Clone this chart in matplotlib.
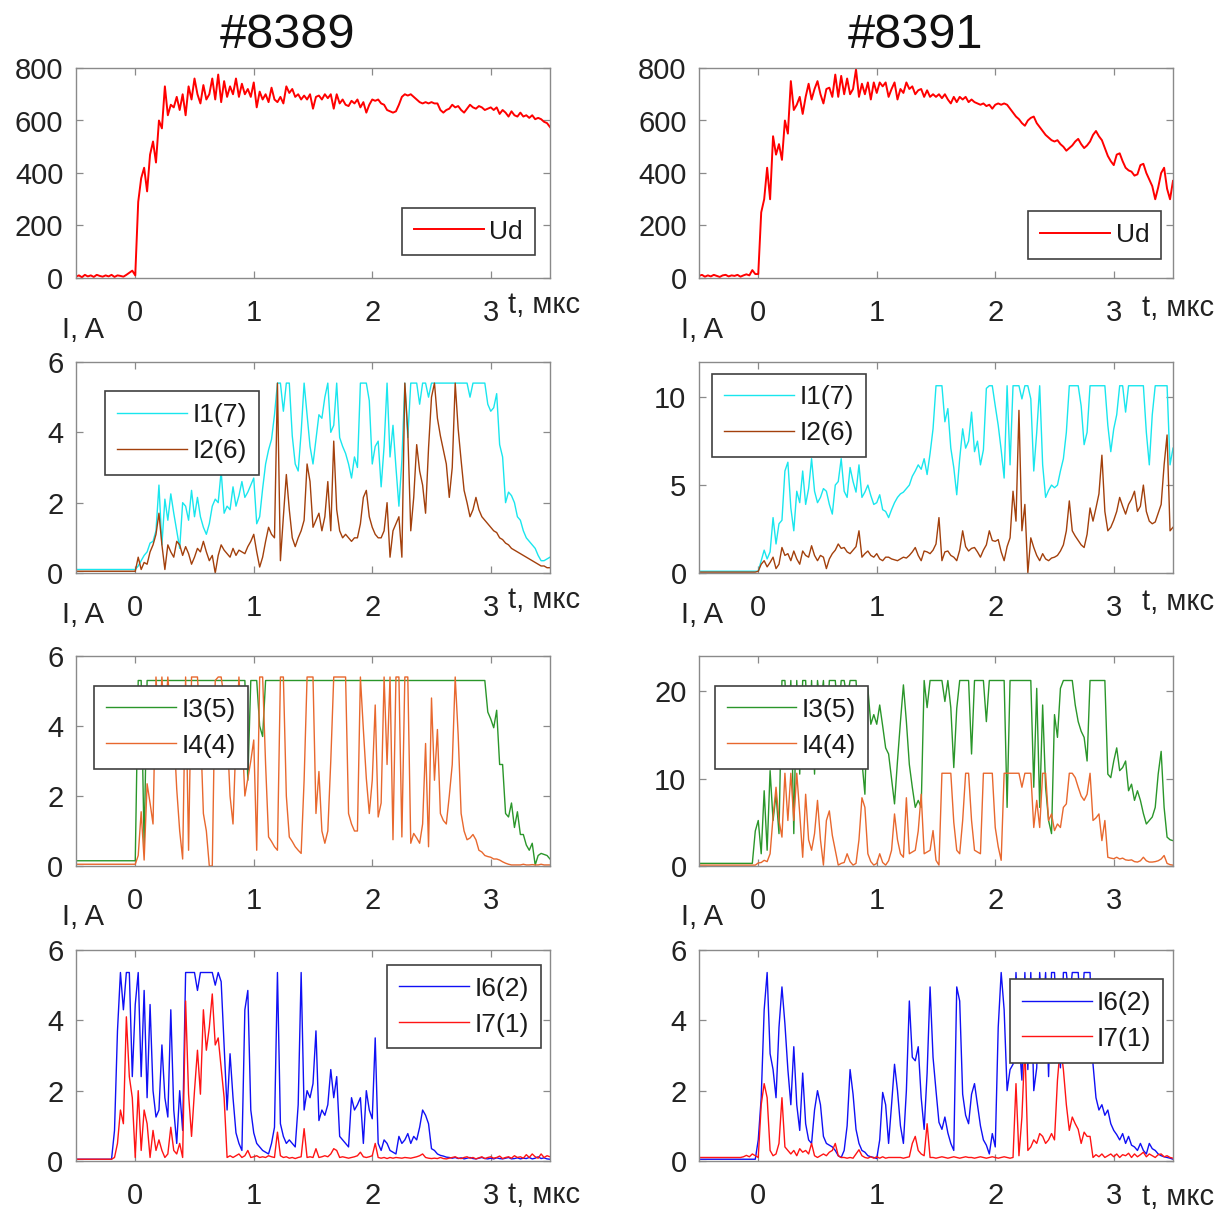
import numpy as np
import matplotlib
matplotlib.use('Agg')
import matplotlib.pyplot as plt

plt.rcParams['font.family'] = ['Liberation Sans', 'DejaVu Sans']

# time grid of the scope traces, мкс (step 0.025)
t_us = np.linspace(-0.5, 3.5, 161)

# ---- shot #8389 ----
ud_8389 = [
    5, 10, 3, 12, 6, 10, 4, 12, 8, 5, 10, 6, 12, 4, 10, 8, 5, 12, 20, 28,
    10, 290, 380, 420, 330, 470, 520, 440, 600, 570, 730, 620, 660, 650, 690, 640, 700, 620, 730, 680,
    760, 700, 665, 735, 680, 700, 760, 680, 775, 670, 750, 690, 730, 700, 760, 690, 740, 700, 720, 690,
    745, 650, 710, 680, 700, 670, 725, 680, 670, 690, 665, 730, 705, 720, 690, 700, 680, 695, 680, 700,
    645, 690, 695, 680, 700, 685, 700, 645, 700, 665, 680, 660, 655, 675, 665, 680, 650, 670, 630, 660,
    680, 675, 680, 665, 660, 640, 635, 630, 635, 660, 690, 700, 695, 700, 690, 680, 670, 665, 670, 665,
    670, 665, 665, 640, 630, 640, 645, 660, 650, 655, 640, 630, 645, 660, 650, 645, 655, 650, 640, 645,
    650, 640, 650, 625, 640, 630, 615, 635, 620, 615, 630, 615, 620, 610, 620, 605, 610, 605, 595, 590,
    575]

i1_8389 = [
    0.1] * 20 + [
    0.1, 0.2, 0.35, 0.5, 0.6, 0.85, 0.9, 1.2, 2.5, 0.8, 2.1, 1.5, 2.25, 1.7, 1.2, 0.7, 2.0, 1.9, 1.5, 2.35,
    1.6, 2.15, 1.6, 1.3, 1.1, 1.4, 1.9, 2.1, 2.0, 2.9, 1.7, 1.9, 1.8, 2.45, 1.9, 2.2, 2.6, 2.15, 2.3, 2.5,
    2.7, 1.4, 1.6, 2.4, 3.1, 3.5, 3.8, 4.5, 5.4, 5.4, 4.6, 5.4, 5.4, 3.9, 3.1, 2.9, 4.0, 5.4, 4.5, 3.6,
    3.1, 3.8, 4.5, 4.4, 5.0, 5.4, 4.0, 4.2, 5.4, 3.85, 3.6, 3.4, 3.1, 2.7, 3.3, 3.0, 5.4, 5.4, 5.4, 4.9,
    3.1, 3.6, 3.75, 2.45, 3.6, 5.4, 3.3, 4.2, 3.0, 1.9, 3.2, 5.4, 3.85, 5.4, 5.4, 5.4, 4.8, 5.4, 5.4, 5.0,
    5.4, 5.4, 5.4, 5.4, 5.4, 5.4, 5.4, 5.4, 5.4, 5.4, 5.4, 5.4, 5.4, 5.0, 5.4, 5.4, 5.4, 5.4, 5.4, 4.8,
    4.6, 4.7, 5.1, 3.65, 3.3, 2.0, 2.3, 2.2, 2.0, 1.6, 1.5, 1.2, 1.0, 0.9, 0.8, 0.7, 0.5, 0.35, 0.35, 0.4,
    0.45]

i2_8389 = [
    0.05] * 20 + [
    0.05, 0.45, 0.1, 0.3, 0.25, 0.6, 0.8, 1.1, 1.7, 0.8, 0.1, 0.8, 0.6, 0.45, 0.9, 0.8, 0.5, 0.75, 0.55, 0.25,
    0.45, 0.7, 0.6, 0.9, 0.6, 0.35, 0.5, 0.0, 0.5, 0.8, 0.65, 0.55, 0.45, 0.7, 0.5, 0.65, 0.6, 0.55, 0.75, 0.9,
    1.1, 0.6, 0.17, 0.45, 0.9, 1.3, 1.1, 1.0, 5.4, 0.35, 1.6, 2.8, 1.8, 1.0, 0.75, 1.0, 1.2, 1.5, 3.1, 2.6,
    1.3, 1.5, 1.7, 1.2, 1.6, 2.6, 1.2, 3.75, 1.8, 1.2, 1.0, 1.1, 1.0, 0.9, 1.0, 1.0, 1.4, 2.15, 2.35, 1.6,
    1.3, 1.1, 1.0, 1.0, 1.2, 2.0, 0.45, 1.2, 1.4, 1.6, 0.45, 5.4, 4.0, 1.2, 2.15, 3.65, 2.9, 2.5, 1.7, 3.55,
    5.0, 5.4, 4.4, 3.9, 3.5, 3.1, 2.15, 3.0, 5.4, 4.1, 3.2, 2.35, 2.0, 1.6, 1.8, 2.15, 1.8, 1.6, 1.5, 1.4,
    1.3, 1.2, 1.15, 1.0, 0.95, 0.85, 0.8, 0.7, 0.65, 0.6, 0.55, 0.5, 0.45, 0.4, 0.35, 0.3, 0.25, 0.2, 0.2, 0.15,
    0.15]

i3_8389 = [
    0.15] * 20 + [
    0.15, 5.3, 5.3, 0.55] + [5.3] * 34 + [2.45, 5.3,
    5.3, 5.3, 4.0, 3.7] + [5.3] * 75 + [4.4,
    4.2, 3.95, 4.45, 2.9, 2.9, 1.5, 1.4, 1.8, 1.1, 1.55, 0.9, 0.9, 0.6, 0.45, 0.65, 0.03, 0.3, 0.36, 0.33, 0.3,
    0.2]

i4_8389 = [
    0.05] * 20 + [
    0.05, 0.3, 1.55, 0.17, 2.35, 1.8, 1.2, 5.4, 3.9, 5.4, 4.0, 5.4, 4.35, 3.9, 2.2, 1.0, 0.2, 5.4, 0.45, 5.4,
    5.4, 5.4, 4.0, 1.5, 1.0, 0.0, 0.0, 5.3, 5.4, 5.4, 4.8, 3.9, 2.0, 1.2, 3.6, 5.4, 3.9, 2.0, 2.5, 3.0,
    3.6, 0.45, 5.4, 5.4, 2.9, 0.83, 0.7, 0.55, 0.45, 5.4, 5.4, 2.0, 0.83, 0.7, 0.55, 0.45, 0.36, 2.45, 5.4, 5.4,
    5.4, 1.5, 2.7, 1.0, 0.65, 1.0, 3.0, 5.4, 5.4, 5.4, 5.4, 5.4, 1.5, 1.2, 1.0, 1.0, 5.4, 3.9, 2.5, 1.5,
    2.45, 4.6, 1.4, 1.8, 5.4, 2.9, 5.4, 0.75, 5.4, 5.4, 0.83, 5.4, 5.4, 0.65, 0.93, 0.8, 0.65, 1.2, 3.5, 0.55,
    4.8, 2.45, 3.9, 1.5, 1.3, 1.2, 2.0, 2.9, 5.4, 3.75, 1.5, 1.0, 0.75, 0.8, 0.9, 0.75, 0.45, 0.4, 0.3, 0.27,
    0.25, 0.2, 0.2, 0.17, 0.12, 0.08, 0.05, 0.03, 0.03, 0.03, 0.03, 0.05, 0.03, 0.03, 0.04, 0.03, 0.03, 0.05, 0.03, 0.03,
    0.03]

i6_8389 = [
    0.05] * 13 + [0.87, 3.7, 5.36, 4.3, 5.36, 5.36, 2.4,
    4.45, 5.36, 2.4, 4.85, 1.8, 4.45, 2.0, 1.25, 1.45, 3.3, 1.8, 1.25, 4.3, 1.45, 0.5, 2.0, 0.87, 5.36, 5.36, 5.36,
    5.36, 4.85, 5.36, 5.36, 5.36, 5.36, 5.36, 5.0, 5.36, 5.1, 3.3, 1.45, 3.05, 1.8, 0.8, 0.5, 0.3, 4.3, 4.85, 1.45,
    0.8, 0.5, 0.4, 0.3, 0.25, 0.2, 0.5, 0.96, 5.36, 1.06, 0.7, 0.5, 0.6, 0.5, 0.4, 1.6, 5.36, 1.45, 2.0, 1.8,
    2.2, 3.7, 1.15, 1.45, 1.3, 1.6, 2.6, 1.8, 2.4, 0.7, 0.6, 0.5, 0.4, 1.8, 1.45, 1.6, 1.8, 0.5, 2.0, 1.45,
    1.2, 3.5, 0.5, 0.3, 0.6, 0.5, 0.3, 0.25, 0.2, 0.7, 0.5, 0.6, 0.78, 0.5, 0.7, 0.6, 0.96, 1.45, 1.3, 1.06,
    0.35, 0.3, 0.2, 0.16, 0.14, 0.11, 0.1, 0.08, 0.1, 0.07, 0.09, 0.06, 0.08, 0.1, 0.07, 0.06, 0.08, 0.1, 0.07, 0.06,
    0.08, 0.06, 0.09, 0.07, 0.06, 0.08, 0.1, 0.06, 0.07, 0.09, 0.06, 0.08, 0.07, 0.1, 0.06, 0.08, 0.12, 0.07, 0.09, 0.06,
    0.05]

i7_8389 = [
    0.05] * 13 + [0.1, 0.5, 1.45, 1.06, 4.1, 2.4, 1.8,
    0.1, 2.0, 0.3, 1.45, 1.06, 0.1, 0.87, 0.3, 0.6, 0.3, 0.1, 0.2, 0.96, 0.3, 0.2, 0.5, 0.1, 4.55, 1.9, 0.7,
    2.0, 3.15, 1.9, 4.3, 3.15, 3.8, 4.75, 3.3, 3.5, 2.65, 1.8, 0.1, 0.15, 0.1, 0.15, 0.2, 0.1, 0.15, 0.3, 0.1,
    0.12, 0.15, 0.1, 0.12, 0.1, 0.15, 0.12, 0.1, 0.82, 0.15, 0.1, 0.12, 0.08, 0.1, 0.07, 0.1, 0.12, 0.92, 0.1, 0.12,
    0.1, 0.35, 0.1, 0.12, 0.15, 0.12, 0.2, 0.35, 0.3, 0.1, 0.12, 0.1, 0.08, 0.1, 0.12, 0.15, 0.25, 0.12, 0.1, 0.12,
    0.15, 0.5, 0.1, 0.08, 0.1, 0.07, 0.1, 0.08, 0.1, 0.09, 0.08, 0.1, 0.09, 0.08, 0.1, 0.12, 0.15, 0.2, 0.1, 0.08,
    0.07, 0.08, 0.07, 0.1, 0.07, 0.06, 0.08, 0.1, 0.12, 0.08, 0.07, 0.1, 0.12, 0.08, 0.1, 0.06, 0.09, 0.12, 0.07, 0.1,
    0.12, 0.08, 0.1, 0.14, 0.07, 0.1, 0.12, 0.08, 0.15, 0.1, 0.12, 0.08, 0.18, 0.1, 0.2, 0.12, 0.08, 0.2, 0.1, 0.15,
    0.12]

# ---- shot #8391 ----
ud_8391 = [
    8, 12, 5, 10, 6, 12, 8, 4, 10, 12, 6, 10, 8, 12, 5, 10, 14, 10, 30, 15,
    15, 250, 300, 420, 300, 540, 470, 510, 450, 600, 550, 750, 640, 660, 690, 625, 690, 740, 680, 720,
    750, 700, 665, 720, 725, 690, 775, 690, 770, 700, 760, 700, 720, 795, 690, 740, 700, 745, 680, 745,
    705, 745, 730, 745, 690, 720, 745, 680, 720, 705, 745, 720, 730, 700, 715, 720, 690, 715, 690, 700,
    690, 700, 685, 700, 680, 665, 690, 670, 690, 680, 690, 670, 680, 670, 665, 660, 665, 655, 660, 645,
    660, 665, 660, 665, 660, 645, 630, 615, 605, 590, 580, 600, 610, 615, 590, 575, 560, 545, 535, 525,
    520, 525, 510, 500, 485, 495, 505, 520, 530, 510, 495, 505, 520, 545, 560, 540, 525, 495, 465, 445,
    430, 470, 475, 445, 420, 410, 405, 390, 395, 430, 435, 400, 375, 350, 300, 345, 400, 420, 340, 300,
    370]

i1_8391 = [
    0.1] * 20 + [
    0.1, 0.7, 1.3, 0.8, 1.2, 3.15, 1.65, 2.8, 3.0, 5.8, 6.3, 3.7, 2.4, 4.65, 4.0, 5.8, 3.9, 4.8, 6.5, 4.65,
    4.0, 4.3, 4.8, 4.65, 3.9, 3.35, 5.0, 5.2, 6.5, 4.65, 4.3, 6.0, 5.2, 4.6, 6.15, 4.3, 4.6, 5.0, 4.4, 3.9,
    4.0, 4.45, 3.6, 3.5, 3.15, 3.6, 4.0, 4.3, 4.5, 4.6, 4.8, 5.0, 5.5, 5.8, 6.15, 5.9, 6.5, 5.6, 6.8, 8.2,
    10.65, 10.65, 10.65, 8.6, 9.35, 7.1, 6.0, 4.45, 6.5, 8.2, 7.1, 7.5, 9.15, 6.9, 7.5, 6.15, 7.0, 10.5, 10.65, 10.65,
    9.5, 8.4, 7.0, 5.4, 10.65, 6.15, 10.65, 10.65, 10.65, 9.9, 10.65, 10.65, 9.9, 5.8, 8.0, 10.65, 6.15, 4.3, 4.7, 5.0,
    4.85, 5.0, 5.8, 6.5, 8.0, 10.65, 10.65, 10.65, 10.65, 9.5, 7.3, 8.0, 10.65, 10.65, 10.65, 10.65, 10.65, 10.65, 8.4, 6.9,
    8.2, 9.0, 10.65, 10.65, 9.15, 10.65, 10.65, 10.65, 10.65, 10.65, 10.65, 8.0, 6.15, 9.0, 10.65, 10.65, 10.65, 10.65, 10.65, 6.15,
    7.1]

i2_8391 = [
    0.05] * 20 + [
    0.1, 0.5, 0.7, 0.35, 0.6, 0.9, 0.25, 0.5, 1.45, 1.0, 1.1, 0.7, 1.25, 0.8, 0.5, 1.25, 1.0, 0.9, 1.55, 1.0,
    0.7, 1.0, 0.9, 0.25, 0.8, 1.1, 1.3, 1.65, 1.4, 1.45, 1.2, 1.1, 1.3, 1.5, 2.4, 0.9, 1.1, 1.25, 1.0, 0.9,
    1.1, 0.8, 0.7, 0.9, 0.9, 0.8, 0.75, 0.7, 0.8, 0.9, 0.85, 1.0, 1.2, 1.45, 1.0, 0.7, 1.25, 1.2, 1.1, 1.3,
    1.65, 3.15, 0.7, 1.2, 1.25, 1.0, 0.9, 0.7, 1.3, 2.4, 1.5, 1.25, 1.4, 1.45, 1.2, 0.9, 1.3, 1.6, 2.4, 1.85,
    1.8, 1.9, 1.2, 0.7, 1.5, 2.0, 4.65, 2.95, 9.25, 2.4, 3.9, 0.0, 2.0, 1.45, 1.0, 0.7, 1.1, 0.8, 0.7, 0.85,
    0.9, 1.0, 1.25, 1.6, 2.4, 4.1, 2.4, 2.1, 1.85, 1.6, 1.45, 2.2, 3.7, 2.95, 3.7, 4.5, 6.7, 3.5, 2.4, 2.6,
    3.0, 3.5, 4.3, 3.8, 3.35, 3.9, 4.2, 4.65, 3.5, 3.8, 5.0, 3.5, 2.95, 2.8, 2.9, 3.4, 3.9, 6.15, 7.85, 2.4,
    2.6]

i3_8391 = [
    0.3] * 19 + [4.0,
    5.2, 1.4, 8.6, 1.8, 10.9, 5.2, 8.2, 3.7, 21.2, 21.2, 15.0, 21.2, 3.7, 21.2, 10.5, 21.2, 21.2, 12.0, 21.2, 10.5,
    21.2, 18.0, 21.2, 14.0, 21.2, 21.2, 21.2, 17.0, 21.2, 21.2, 19.0, 21.2, 21.2, 21.2, 16.0, 12.0, 8.2, 20.3, 16.2, 17.3,
    16.2, 18.4, 16.0, 13.5, 12.8, 10.0, 7.1, 12.0, 16.5, 20.7, 16.5, 11.6, 9.0, 6.7, 7.5, 6.7, 21.2, 18.1, 21.2, 21.2,
    21.2, 21.2, 21.2, 18.8, 21.2, 18.1, 11.25, 18.0, 21.2, 21.2, 21.2, 21.2, 12.8, 21.2, 21.2, 21.2, 21.2, 16.5, 21.2, 21.2,
    21.2, 21.2, 21.2, 21.2, 6.7, 21.2, 21.2, 21.2, 21.2, 21.2, 21.2, 21.2, 21.2, 9.0, 20.3, 6.7, 18.4, 9.0, 5.2, 3.7,
    17.3, 14.7, 20.3, 21.2, 21.2, 21.2, 21.2, 18.4, 16.5, 15.4, 14.7, 12.0, 21.2, 21.2, 21.2, 21.2, 21.2, 21.2, 10.5, 10.1,
    12.0, 13.5, 10.9, 11.25, 12.0, 8.6, 9.35, 7.5, 8.6, 7.5, 6.0, 4.8, 5.2, 5.6, 6.7, 10.5, 13.1, 6.7, 3.3, 3.0,
    2.9]

i4_8391 = [
    0.1] * 20 + [
    0.35, 0.4, 0.65, 0.5, 1.4, 5.6, 9.0, 5.2, 3.3, 10.6, 5.2, 10.6, 5.2, 10.6, 6.0, 1.0, 8.2, 3.0, 1.8, 3.7,
    7.5, 3.0, 0.1, 5.2, 6.3, 3.5, 1.8, 0.1, 0.3, 0.4, 1.4, 0.5, 0.1, 0.3, 3.0, 7.8, 6.7, 1.4, 0.5, 0.1,
    0.3, 1.4, 0.4, 0.1, 0.6, 1.8, 5.95, 3.0, 1.4, 1.0, 7.8, 1.4, 1.6, 1.8, 4.0, 8.2, 1.4, 1.6, 1.8, 4.05,
    0.65, 0.1, 10.6, 10.6, 10.6, 10.6, 5.0, 1.8, 1.4, 5.2, 10.6, 10.6, 5.2, 1.8, 1.6, 1.4, 10.6, 10.6, 10.6, 10.6,
    4.4, 2.2, 0.65, 10.6, 10.6, 10.6, 10.6, 10.6, 10.6, 9.0, 10.6, 10.6, 10.6, 4.4, 7.5, 4.4, 10.6, 10.6, 5.2, 5.95,
    4.05, 4.8, 4.4, 6.7, 7.1, 10.6, 10.6, 10.1, 9.0, 8.0, 7.5, 8.2, 10.6, 5.2, 5.5, 5.95, 2.9, 5.2, 1.0, 0.9,
    0.83, 1.0, 0.8, 0.9, 0.7, 0.65, 0.7, 0.5, 0.45, 0.6, 1.0, 0.6, 0.45, 0.45, 0.5, 0.6, 0.8, 1.2, 0.3, 0.15,
    0.1]

i6_8391 = [
    0.05] * 20 + [
    0.6, 1.8, 4.3, 5.36, 3.05, 2.6, 1.8, 3.8, 4.95, 3.9, 2.6, 1.6, 3.25, 1.6, 0.87, 2.5, 1.06, 0.6, 0.5, 1.45,
    2.0, 1.6, 0.7, 0.5, 0.45, 0.4, 0.3, 0.15, 0.1, 0.3, 1.0, 2.6, 1.9, 0.9, 0.5, 0.3, 0.25, 0.15, 0.12, 0.1,
    0.07, 0.6, 1.95, 1.6, 0.5, 1.6, 2.75, 2.0, 1.0, 0.5, 2.0, 4.55, 2.95, 2.85, 3.25, 1.8, 0.9, 2.5, 4.95, 2.95,
    2.0, 1.1, 0.9, 1.25, 0.8, 0.5, 0.3, 4.95, 4.55, 1.9, 1.3, 1.06, 1.9, 2.2, 1.6, 1.0, 0.6, 0.45, 0.2, 0.78,
    0.4, 3.8, 5.36, 4.3, 2.0, 2.6, 2.75, 5.36, 3.5, 2.3, 5.36, 2.6, 5.36, 2.0, 2.65, 5.36, 4.0, 5.36, 2.4, 5.36,
    5.36, 3.5, 2.65, 5.36, 5.36, 4.5, 5.36, 5.36, 5.36, 4.0, 5.36, 5.36, 5.36, 2.75, 1.8, 1.45, 1.6, 1.3, 1.45, 1.06,
    0.87, 0.75, 0.6, 0.78, 0.5, 0.7, 0.45, 0.4, 0.3, 0.5, 0.3, 0.2, 0.5, 0.35, 0.3, 0.2, 0.15, 0.12, 0.1, 0.08,
    0.05]

i7_8391 = [
    0.1] * 15 + [0.12, 0.16, 0.12, 0.2, 0.15,
    0.1, 1.6, 2.2, 1.8, 0.3, 0.15, 0.2, 0.5, 1.8, 0.4, 0.3, 0.2, 0.3, 0.15, 0.35, 0.25, 0.3, 0.2, 0.5, 0.15,
    0.1, 0.15, 0.2, 0.15, 0.25, 0.3, 0.5, 0.15, 0.1, 0.1, 0.08, 0.1, 0.08, 0.2, 0.32, 0.15, 0.1, 0.08, 0.12, 0.08,
    0.12, 0.08, 0.12, 0.08, 0.1, 0.1, 0.1, 0.1, 0.1, 0.08, 0.1, 0.12, 0.5, 0.7, 0.3, 0.2, 0.15, 1.06, 0.1, 0.1,
    0.08, 0.1, 0.12, 0.1, 0.08, 0.1, 0.12, 0.1, 0.08, 0.1, 0.12, 0.1, 0.1, 0.08, 0.1, 0.12, 0.1, 0.08, 0.1, 0.12,
    0.1, 0.08, 0.1, 0.12, 0.1, 0.08, 0.1, 2.2, 0.15, 1.25, 3.3, 0.3, 0.4, 0.6, 0.5, 0.78, 0.7, 0.5, 0.6, 0.78,
    0.6, 2.3, 3.3, 2.6, 1.6, 0.87, 1.25, 1.06, 0.9, 0.5, 0.82, 0.7, 0.7, 0.1, 0.18, 0.12, 0.2, 0.1, 0.15, 0.2,
    0.12, 0.2, 0.1, 0.18, 0.15, 0.22, 0.1, 0.2, 0.12, 0.18, 0.25, 0.12, 0.2, 0.15, 0.1, 0.18, 0.2, 0.12, 0.15, 0.1,
    0.08]

shots = ['#8389', '#8391']

C_UD = '#ff0000'
C_I1 = '#19e6ee'
C_I2 = '#a3400c'
C_I3 = '#2a962a'
C_I4 = '#e8682e'
C_I6 = '#1010f5'
C_I7 = '#ff1414'

W, H = 1227, 1209
fig = plt.figure(figsize=(W / 100, H / 100), dpi=100)

COL_X = [(76, 550), (699, 1173)]
ROW_Y = [(68, 278), (362, 573), (656, 866), (950, 1161)]


def make_ax(col, row):
    x0, x1 = COL_X[col]
    y0, y1 = ROW_Y[row]
    return fig.add_axes([x0 / W, 1 - y1 / H, (x1 - x0) / W, (y1 - y0) / H])


def style(ax, ymax, yticks):
    ax.set_xlim(-0.5, 3.5)
    ax.set_ylim(0, ymax)
    ax.set_xticks([0, 1, 2, 3])
    ax.set_yticks(yticks)
    ax.tick_params(direction='in', top=True, right=True, length=5, width=0.9,
                   color='#8a8a8a', labelsize=21, labelcolor='#222222')
    ax.tick_params(axis='x', pad=15)
    ax.tick_params(axis='y', pad=9)
    for s in ax.spines.values():
        s.set_color('#8a8a8a')
        s.set_linewidth(1.0)


def legend(ax, x, ytop):
    leg = ax.legend(loc='upper left', bbox_to_anchor=(x, ytop), borderaxespad=0,
                    fontsize=19, handlelength=2.65, handletextpad=0.2, borderpad=0.45,
                    labelspacing=0.45, fancybox=False, framealpha=1, edgecolor='#404040')
    leg.get_frame().set_linewidth(1.2)
    for txt in leg.get_texts():
        txt.set_color('#1a1a1a')


panels = [
    # (col, row, series, ymax, yticks, legend x, legend top)
    (0, 0, [(ud_8389, C_UD, 'Ud')], 800, [0, 200, 400, 600, 800], 0.688, 0.335),
    (1, 0, [(ud_8391, C_UD, 'Ud')], 800, [0, 200, 400, 600, 800], 0.695, 0.317),
    (0, 1, [(i1_8389, C_I1, 'I1(7)'), (i2_8389, C_I2, 'I2(6)')], 6, [0, 2, 4, 6], 0.062, 0.862),
    (1, 1, [(i1_8391, C_I1, 'I1(7)'), (i2_8391, C_I2, 'I2(6)')], 12, [0, 5, 10], 0.028, 0.945),
    (0, 2, [(i3_8389, C_I3, 'I3(5)'), (i4_8389, C_I4, 'I4(4)')], 6, [0, 2, 4, 6], 0.039, 0.858),
    (1, 2, [(i3_8391, C_I3, 'I3(5)'), (i4_8391, C_I4, 'I4(4)')], 24, [0, 10, 20], 0.033, 0.858),
    (0, 3, [(i6_8389, C_I6, 'I6(2)'), (i7_8389, C_I7, 'I7(1)')], 6, [0, 2, 4, 6], 0.657, 0.93),
    (1, 3, [(i6_8391, C_I6, 'I6(2)'), (i7_8391, C_I7, 'I7(1)')], 6, [0, 2, 4, 6], 0.656, 0.863),
]

for col, row, series, ymax, yticks, lx, ly in panels:
    ax = make_ax(col, row)
    for vals, color, name in series:
        assert len(vals) == len(t_us), (name, len(vals))
        lw = 1.4 if name == 'Ud' else 1.0
        ax.plot(t_us, vals, color=color, lw=lw, label=name)
    style(ax, ymax, yticks)
    legend(ax, lx, ly)

# shot titles
fig.text(287 / W, 1 - 36 / H, shots[0], ha='center', va='center', fontsize=35, color='#111111')
fig.text(915 / W, 1 - 36 / H, shots[1], ha='center', va='center', fontsize=35, color='#111111')

# axis captions in the style of the original figure
for x_t, ys in [(508, [305, 600, 1195]), (1142, [308, 602, 1197])]:
    for y in ys:
        fig.text(x_t / W, 1 - y / H, 't, мкс', ha='left', va='center', fontsize=21, color='#222222')
for x_i in [62, 681]:
    for y in [330, 615, 917]:
        fig.text(x_i / W, 1 - y / H, 'I, A', ha='left', va='center', fontsize=21, color='#222222')

fig.savefig('out.png', dpi=100)
